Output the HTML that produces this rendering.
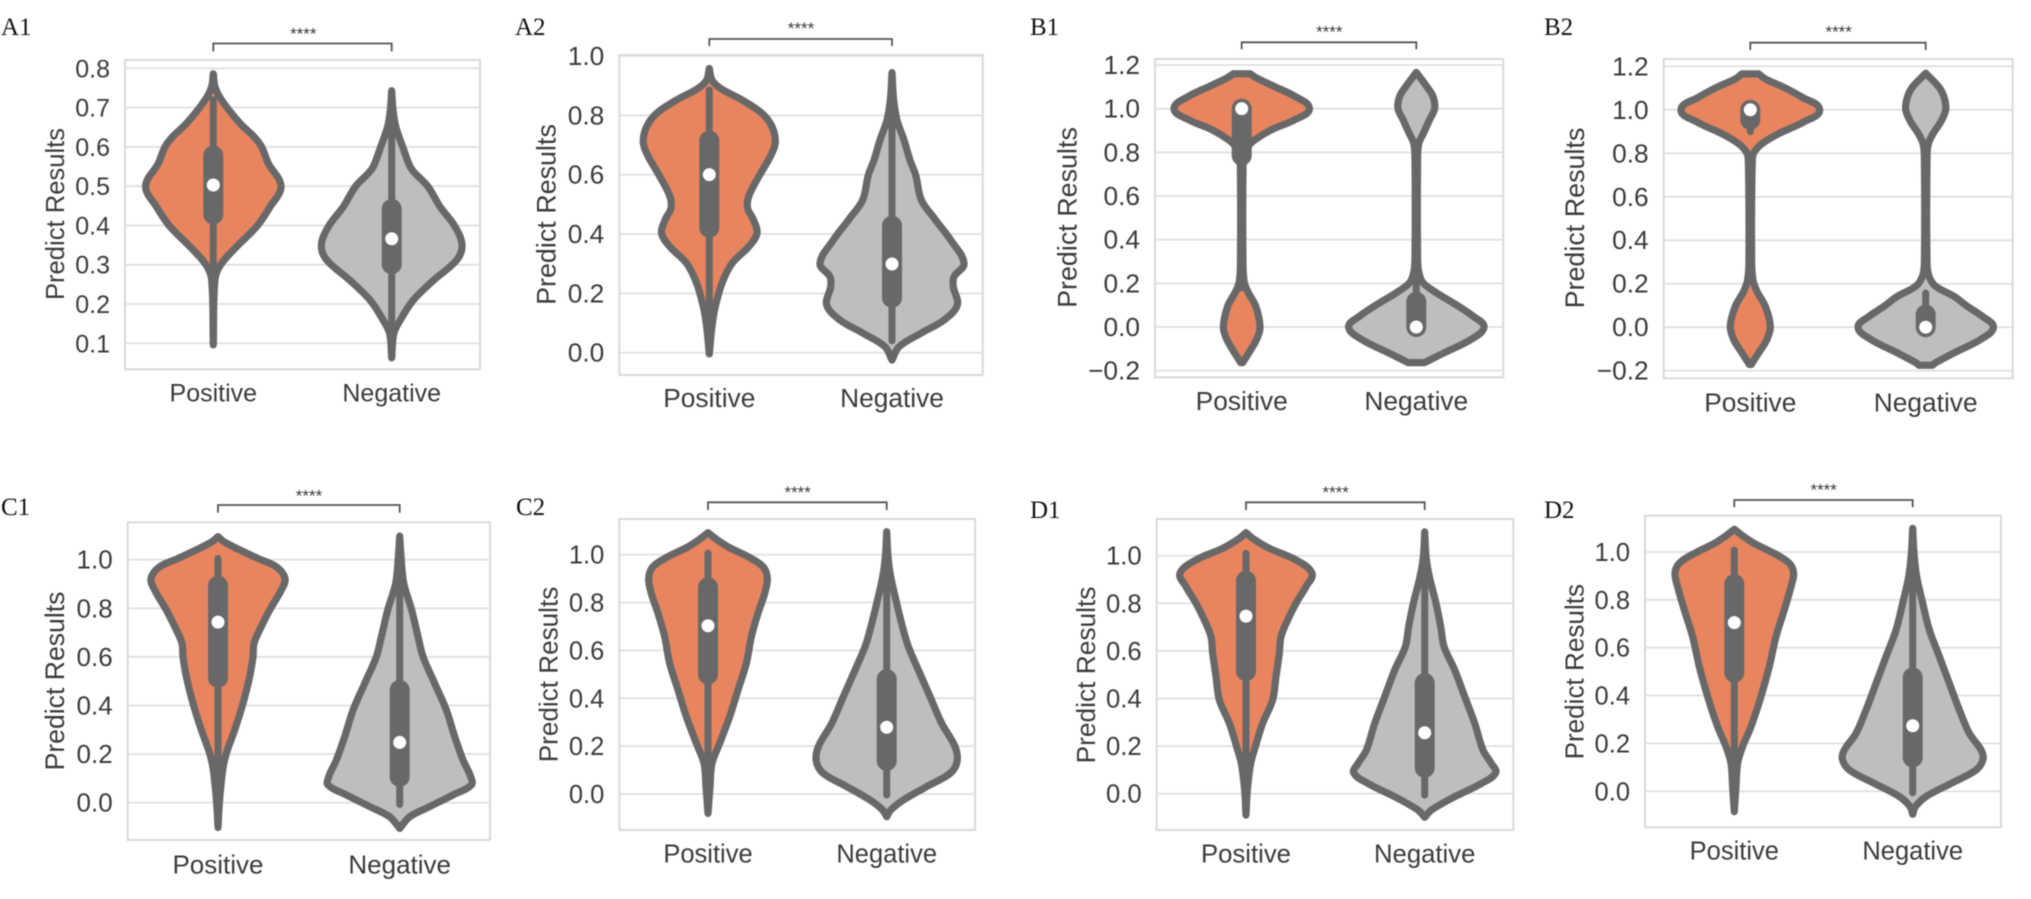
<!DOCTYPE html>
<html lang="en">
<head>
<meta charset="utf-8">
<title>Violin plots of predict results</title>
<style>
html,body{margin:0;padding:0;background:#fff;}
body{width:2031px;height:899px;overflow:hidden;}
svg{display:block;position:absolute;left:0;top:0;filter:blur(0.4px);}
text{font-family:"Liberation Sans",Arial,sans-serif;fill:#3b3b3b;}
text.panel-letter{font-family:"Liberation Serif","Times New Roman",serif;fill:#111;}
</style>
</head>
<body>
<svg id="chart" xmlns="http://www.w3.org/2000/svg" width="2031" height="899" viewBox="0 0 2031 899"></svg>
<script>
// Category labels and shared text
const categories = ["Positive", "Negative"];
const yAxisTitle = "Predict Results";
const significance = "****";

// Y tick values
const ticksA1 = [0.1, 0.2, 0.3, 0.4, 0.5, 0.6, 0.7, 0.8];
const ticksA2 = [0, 0.2, 0.4, 0.6, 0.8, 1.0];
const ticksB = [-0.2, 0, 0.2, 0.4, 0.6, 0.8, 1.0, 1.2];
const ticksCD = [0, 0.2, 0.4, 0.6, 0.8, 1.0];

// Violin outlines: result value, relative density at that value
const a1PosV = [.786,.753,.719,.66,.626,.6,.558,.5,.447,.397,.346,.3,.262,.096];
const a1PosD = [0,5,25,80,122,145,165,203,170,130,70,22,5,0];
const a1NegV = [.743,.694,.652,.6,.55,.533,.5,.448,.397,.35,.312,.26,.21,.158,.124,.063];
const a1NegD = [0,4,12,33,55,70,108,145,190,211,195,125,65,25,6,0];
const a2PosV = [.958,.919,.89,.852,.807,.762,.708,.661,.593,.526,.487,.447,.402,.357,.301,.234,.155,.088,-.004];
const a2PosD = [0,8,35,98,158,188,198,183,148,118,115,133,143,118,68,38,18,8,0];
const a2NegV = [.944,.852,.784,.717,.649,.599,.515,.447,.38,.301,.256,.222,.161,.11,.065,.02,-.025];
const a2NegD = [0,5,15,36,54,71,88,131,176,216,186,184,196,156,86,21,0];
const b1PosV = [1.16,1.14,1.1,1.056,1,.95,.904,.858,.828,.782,.736,.279,.203,.157,.096,0,-.056,-.117,-.163];
const b1PosD = [25,45,100,160,203,160,90,40,20,8,4,4,8,20,42,55,45,22,3];
const b1NegV = [1.166,1.1,1.056,1,.95,.889,.843,.782,.309,.248,.203,.157,.111,.05,0,-.056,-.117,-.155,-.163];
const b1NegD = [0,32,50,55,40,22,8,4,4,8,20,60,110,170,203,165,85,35,25];
const b2PosV = [1.165,1.142,1.104,1.058,1,.944,.89,.844,.806,.768,.31,.218,.165,.096,.005,-.056,-.118,-.171];
const b2PosD = [25,45,100,155,208,160,85,35,12,6,4,8,20,45,60,50,25,3];
const b2NegV = [1.168,1.104,1.058,1,.944,.89,.844,.783,.295,.234,.188,.142,.096,.05,0,-.056,-.118,-.163,-.175];
const b2NegD = [0,40,55,60,45,22,8,4,4,10,30,85,125,170,203,165,85,30,20];
const c1PosV = [1.095,1.074,1.047,1.005,.971,.923,.875,.793,.711,.656,.601,.519,.409,.299,.203,.134,-.003,-.102];
const c1PosD = [0,18,55,120,175,201,190,155,125,108,105,95,75,50,25,14,4,0];
const c1NegV = [1.097,1.012,.903,.793,.683,.601,.491,.381,.272,.176,.107,.073,.032,-.016,-.058,-.106];
const c1NegD = [0,4,12,36,55,70,105,140,165,190,213,215,160,90,30,0];
const c2PosV = [1.092,1.068,1.033,.992,.95,.901,.838,.755,.657,.546,.435,.323,.212,.128,.031,-.081];
const c2PosD = [0,22,60,120,165,178,170,150,130,115,90,65,35,12,6,0];
const c2NegV = [1.096,.992,.908,.797,.685,.616,.518,.407,.295,.198,.135,.086,.031,-.025,-.067,-.095];
const c2NegD = [0,4,12,30,50,65,95,130,165,205,211,190,120,50,12,0];
const d1PosV = [1.097,1.073,1.031,.982,.926,.87,.8,.73,.66,.59,.492,.394,.296,.197,.127,.015,-.09];
const d1PosD = [0,20,70,150,198,180,150,125,105,100,90,80,50,28,14,4,0];
const d1NegV = [1.1,.996,.912,.8,.702,.618,.52,.408,.296,.183,.127,.088,.043,-.02,-.069,-.099];
const d1NegD = [0,4,14,34,48,58,90,120,150,175,200,213,170,80,20,0];
const d2PosV = [1.095,1.071,1.036,.994,.953,.911,.855,.758,.646,.521,.396,.27,.187,.117,.019,-.085];
const d2PosD = [0,22,60,120,165,178,170,150,125,105,80,50,25,10,5,0];
const d2NegV = [1.099,.994,.897,.786,.674,.563,.451,.34,.242,.173,.134,.089,.033,-.022,-.064,-.096];
const d2NegD = [0,4,12,30,50,80,110,140,170,205,211,190,115,40,8,0];

// Box statistics: whisker low, q1, median, q3, whisker high
const a1PosBox = [.26,.428,.503,.578,.72];
const a1NegBox = [.125,.301,.366,.442,.66];
const a2PosBox = [.12,.421,.6,.715,.885];
const a2NegBox = [.04,.185,.299,.428,.8];
const b1PosBox = [.18,.785,1.0,1.0,1.0];
const b1NegBox = [0,0,0,.116,.28];
const b2PosBox = [.9,.954,1.0,1.0,1.0];
const b2NegBox = [0,0,0,.058,.157];
const c1PosBox = [0,.514,.743,.893,1.005];
const c1NegBox = [-.007,.106,.248,.464,.93];
const c2PosBox = [0,.5,.703,.864,1.006];
const c2NegBox = [-.004,.138,.279,.48,.93];
const d1PosBox = [0,.515,.746,.895,1.01];
const d1NegBox = [-.006,.109,.256,.465,.93];
const d2PosBox = [.09,.496,.705,.866,1.008];
const d2NegBox = [-.006,.141,.274,.476,.93];

// Panel layout (frame, axis calibration, decoration) and the arrays each panel draws
const panels = [
 {id:"a1",letter:"A1",lx:1,ly:35,l:125,r:480,t:60,b:369.3,cx:[213.3,391.7],ref:[.8,68.3,.1,343.3],ticks:ticksA1,fmt:1,fs:25,titleX:55,titleY:214,labelY:401.7,
  brY:43.5,brB:51.5,starX:303.3,starY:30,pos:[a1PosV,a1PosD,a1PosBox],neg:[a1NegV,a1NegD,a1NegBox]},
 {id:"a2",letter:"A2",lx:515,ly:35,l:619.3,r:982.7,t:55,b:375,cx:[709.3,892],ref:[1,56,0,352.7],ticks:ticksA2,fmt:1,fs:26.3,titleX:546.7,titleY:214.5,labelY:407,
  brY:39,brB:46,starX:801,starY:24.3,pos:[a2PosV,a2PosD,a2PosBox],neg:[a2NegV,a2NegD,a2NegBox]},
 {id:"b1",letter:"B1",lx:1030,ly:35,l:1155,r:1503.3,t:59,b:377.3,cx:[1241.7,1416.3],ref:[1.2,65,-.2,370.7],ticks:ticksB,fmt:1,fs:26.3,titleX:1067.3,titleY:217.5,labelY:410,
  brY:42.3,brB:49.3,starX:1329.3,starY:28,pos:[b1PosV,b1PosD,b1PosBox],neg:[b1NegV,b1NegD,b1NegBox]},
 {id:"b2",letter:"B2",lx:1544,ly:35,l:1663.7,r:2012.7,t:59,b:378.3,cx:[1750.3,1925.7],ref:[1.2,66.3,-.2,370.7],ticks:ticksB,fmt:1,fs:26.3,titleX:1575,titleY:218,labelY:411.7,
  brY:42.7,brB:50,starX:1838.7,starY:28,pos:[b2PosV,b2PosD,b2PosBox],neg:[b2NegV,b2NegD,b2NegBox]},
 {id:"c1",letter:"C1",lx:1,ly:515,l:127.7,r:490,t:522.3,b:840,cx:[218,399.7],ref:[1,559.7,0,802.7],ticks:ticksCD,fmt:1,fs:26,titleX:55,titleY:681,labelY:873.3,
  brY:505,brB:512.7,starX:309,starY:492,pos:[c1PosV,c1PosD,c1PosBox],neg:[c1NegV,c1NegD,c1NegBox]},
 {id:"c2",letter:"C2",lx:516,ly:515,l:619.3,r:975,t:519,b:830,cx:[708,886.7],ref:[1,554.7,0,794],ticks:ticksCD,fmt:1,fs:25.5,titleX:548.3,titleY:674.5,labelY:862.7,
  brY:502.3,brB:510,starX:797.7,starY:488.3,pos:[c2PosV,c2PosD,c2PosBox],neg:[c2NegV,c2NegD,c2NegBox]},
 {id:"d1",letter:"D1",lx:1030,ly:518,l:1156.7,r:1513.3,t:519,b:830,cx:[1246,1424.7],ref:[1,555.7,0,793.7],ticks:ticksCD,fmt:1,fs:25.7,titleX:1086,titleY:675,labelY:862.7,
  brY:502.3,brB:510,starX:1335.7,starY:488.3,pos:[d1PosV,d1PosD,d1PosBox],neg:[d1NegV,d1NegD,d1NegBox]},
 {id:"d2",letter:"D2",lx:1544,ly:518,l:1645,r:2001,t:515.7,b:827.3,cx:[1734.3,1912.7],ref:[1,552,0,791.3],ticks:ticksCD,fmt:1,fs:25.5,titleX:1574.3,titleY:671.7,labelY:859.5,
  brY:500,brB:507.3,starX:1823.7,starY:485.7,pos:[d2PosV,d2PosD,d2PosBox],neg:[d2NegV,d2NegD,d2NegBox]}
];

const NS = "http://www.w3.org/2000/svg";
const svg = document.getElementById("chart");
const INK = "#686868";
const FILLS = ["#E8855F", "#BEBEBE"];
const DENSITY_PX = 1 / 3;

function make(tag, parent, attrs, text) {
  const node = document.createElementNS(NS, tag);
  for (const k in attrs) node.setAttribute(k, attrs[k]);
  if (text !== undefined) node.textContent = text;
  parent.appendChild(node);
  return node;
}

function yScaleFor(p) {
  const [v1, px1, v2, px2] = p.ref;
  return v => px1 + (v - v1) * (px2 - px1) / (v2 - v1);
}

function fmtTick(v, digits) {
  const s = Math.abs(v).toFixed(digits);
  return (v < 0 ? "\u2212" : "") + s;
}

function smooth(points) {
  // Smooth curve through the points; control arms are limited by the local segment length
  const tan = points.map((p, i) => {
    const a = points[Math.max(0, i - 1)], b = points[Math.min(points.length - 1, i + 1)];
    const dx = b[0] - a[0], dy = b[1] - a[1], n = Math.hypot(dx, dy) || 1;
    return [dx / n, dy / n];
  });
  let d = "";
  for (let i = 0; i < points.length - 1; i++) {
    const p = points[i], q = points[i + 1];
    const len = Math.hypot(q[0] - p[0], q[1] - p[1]) / 3;
    d += " C" + (p[0] + tan[i][0] * len).toFixed(2) + " " + (p[1] + tan[i][1] * len).toFixed(2) +
         " " + (q[0] - tan[i + 1][0] * len).toFixed(2) + " " + (q[1] - tan[i + 1][1] * len).toFixed(2) +
         " " + q[0].toFixed(2) + " " + q[1].toFixed(2);
  }
  return d;
}

function violinPath(cx, values, density, y) {
  const left = values.map((v, i) => [cx - density[i] * DENSITY_PX, y(v)]);
  const right = values.map((v, i) => [cx + density[i] * DENSITY_PX, y(v)]).reverse();
  return "M" + left[0][0].toFixed(2) + " " + left[0][1].toFixed(2) + smooth(left) +
         " L" + right[0][0].toFixed(2) + " " + right[0][1].toFixed(2) + smooth(right) + " Z";
}

panels.forEach(p => {
  const y = yScaleFor(p);

  const g = make("g", svg, {});
  
  

  const letter = make("text", g, {x: p.lx, y: p.ly, "font-size": 25, "class": "panel-letter"}, p.letter);
  
  

  const frame = make("rect", g, {x: p.l, y: p.t, width: p.r - p.l, height: p.b - p.t, fill: "#fff", stroke: "#d9d9d9", "stroke-width": 2});
  
  

  p.ticks.forEach(t => {
    const py = y(t);
    const grid = make("line", g, {x1: p.l, x2: p.r, y1: py, y2: py, stroke: "#dedede", "stroke-width": 1.7});
    
    
    const lab = make("text", g, {x: p.l - 15, y: py + 9, "text-anchor": "end", "font-size": p.fs}, fmtTick(t, p.fmt));
    
    
  });

  const title = make("text", g, {x: 0, y: 0, "text-anchor": "middle", "font-size": p.fs + 0.6,
    transform: "translate(" + (p.titleX + 9) + " " + p.titleY + ") rotate(-90)"}, yAxisTitle);
  
  

  [p.pos, p.neg].forEach((series, i) => {
    const cx = p.cx[i];
    const [values, density, box] = series;
    const key = categories[i].toLowerCase();

    const vg = make("g", g, {});
    
    

    const body = make("path", vg, {d: violinPath(cx, values, density, y), fill: FILLS[i], stroke: INK, "stroke-width": 7.2, "stroke-linejoin": "round"});
    
    

    const whisker = make("line", vg, {x1: cx, x2: cx, y1: y(box[0]), y2: y(box[4]), stroke: INK, "stroke-width": 7, "stroke-linecap": "round"});
    
    

    const iqr = make("line", vg, {x1: cx, x2: cx, y1: y(box[1]), y2: y(box[3]), stroke: INK, "stroke-width": 20, "stroke-linecap": "round"});
    
    

    const med = make("circle", vg, {cx: cx, cy: y(box[2]), r: 6.5, fill: "#fff"});
    
    

    const cat = make("text", g, {x: cx, y: p.labelY, "text-anchor": "middle", "font-size": p.fs}, categories[i]);
    
    
  });

  const bracket = make("path", g, {d: "M" + p.cx[0] + " " + p.brB + " V" + p.brY + " H" + p.cx[1] + " V" + p.brB, fill: "none", stroke: "#555", "stroke-width": 1.8});
  
  

  const star = make("text", g, {x: p.starX, y: p.starY + 9.7, "text-anchor": "middle", "font-size": 17}, significance);
  
  
});
</script>
</body>
</html>
